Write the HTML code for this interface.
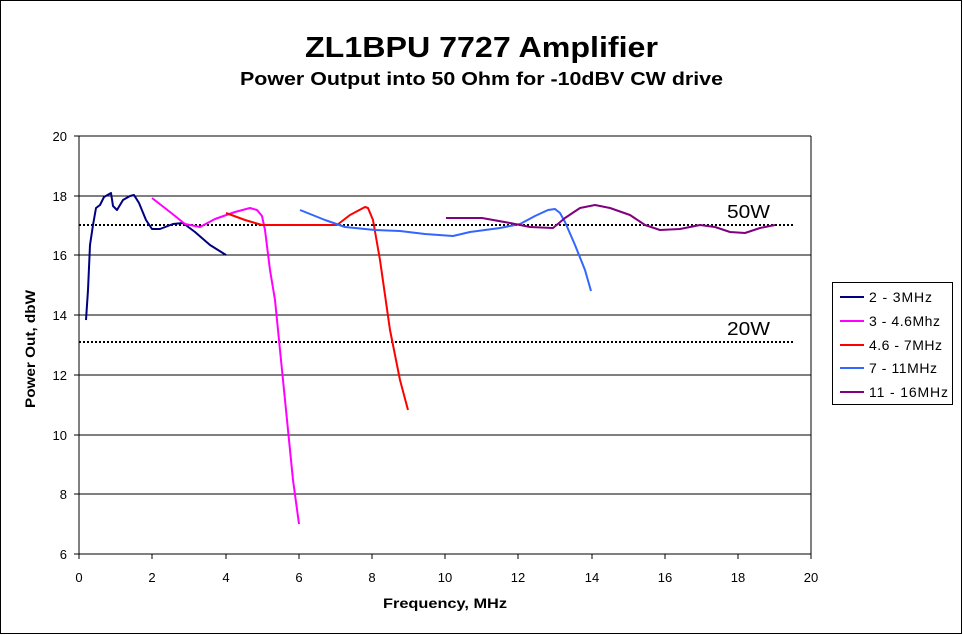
<!DOCTYPE html>
<html><head><style>body{margin:0;background:#fff}svg{display:block}</style></head><body>
<svg width="963" height="635" xmlns="http://www.w3.org/2000/svg" font-family="Liberation Sans, Arial, sans-serif">
<rect x="0.5" y="0.5" width="961" height="633" fill="#fff" stroke="#000"/>
<text x="305" y="57" font-size="29" font-weight="bold" textLength="353" lengthAdjust="spacingAndGlyphs">ZL1BPU 7727 Amplifier</text>
<text x="240" y="85" font-size="18" font-weight="bold" textLength="483" lengthAdjust="spacingAndGlyphs">Power Output into 50 Ohm for -10dBV CW drive</text>
<g stroke="#000" stroke-width="1">
<line x1="79" y1="136" x2="811" y2="136"/><line x1="79" y1="196" x2="811" y2="196"/><line x1="79" y1="255" x2="811" y2="255"/><line x1="79" y1="315" x2="811" y2="315"/><line x1="79" y1="375" x2="811" y2="375"/><line x1="79" y1="435" x2="811" y2="435"/><line x1="79" y1="494" x2="811" y2="494"/><line x1="79" y1="554" x2="811" y2="554"/>
<line x1="79" y1="136" x2="79" y2="554"/><line x1="811" y1="136" x2="811" y2="554"/>
<line x1="74" y1="136" x2="79" y2="136"/><line x1="74" y1="196" x2="79" y2="196"/><line x1="74" y1="255" x2="79" y2="255"/><line x1="74" y1="315" x2="79" y2="315"/><line x1="74" y1="375" x2="79" y2="375"/><line x1="74" y1="435" x2="79" y2="435"/><line x1="74" y1="494" x2="79" y2="494"/><line x1="74" y1="554" x2="79" y2="554"/>
<line x1="79" y1="554" x2="79" y2="559"/><line x1="152" y1="554" x2="152" y2="559"/><line x1="226" y1="554" x2="226" y2="559"/><line x1="299" y1="554" x2="299" y2="559"/><line x1="372" y1="554" x2="372" y2="559"/><line x1="445" y1="554" x2="445" y2="559"/><line x1="518" y1="554" x2="518" y2="559"/><line x1="592" y1="554" x2="592" y2="559"/><line x1="665" y1="554" x2="665" y2="559"/><line x1="738" y1="554" x2="738" y2="559"/><line x1="811" y1="554" x2="811" y2="559"/>
</g>
<g font-size="13" text-anchor="end">
<text x="67" y="141">20</text><text x="67" y="201">18</text><text x="67" y="260">16</text><text x="67" y="320">14</text><text x="67" y="380">12</text><text x="67" y="440">10</text><text x="67" y="499">8</text><text x="67" y="559">6</text>
</g>
<g font-size="13" text-anchor="middle">
<text x="79" y="582">0</text><text x="152" y="582">2</text><text x="226" y="582">4</text><text x="299" y="582">6</text><text x="372" y="582">8</text><text x="445" y="582">10</text><text x="518" y="582">12</text><text x="592" y="582">14</text><text x="665" y="582">16</text><text x="738" y="582">18</text><text x="811" y="582">20</text>
</g>
<text x="383" y="608" font-size="14" font-weight="bold" textLength="124" lengthAdjust="spacingAndGlyphs">Frequency, MHz</text>
<text transform="translate(35,408) rotate(-90)" font-size="14" font-weight="bold" textLength="118" lengthAdjust="spacingAndGlyphs">Power Out, dbW</text>
<g stroke="#000" stroke-width="2" stroke-dasharray="2,2">
<line x1="79" y1="225" x2="793" y2="225"/><line x1="79" y1="342" x2="793" y2="342"/>
</g>
<text x="727" y="218" font-size="18" textLength="43" lengthAdjust="spacingAndGlyphs">50W</text>
<text x="727" y="335" font-size="18" textLength="43" lengthAdjust="spacingAndGlyphs">20W</text>
<g fill="none" stroke-width="2" stroke-linejoin="round">
<polyline stroke="#000080" points="86,320 88,290 90,245 93,225 96,208 100,205 104,197 111,193 113,206 117,210 123,200 130,196 134,195 139,203 146,220 152,229 160,229 173,224 183,223 195,232 210,245 226,255"/>
<polyline stroke="#ff00ff" points="152,198 170,212 185,224 200,227 215,219 235,212 250,208 257,210 262,216 265,230 270,270 275,300 285,400 293,480 299,524"/>
<polyline stroke="#ff0000" points="226,213 245,220 262,225 337,225 350,215 365,207 368,208 373,220 380,260 390,330 400,380 408,410"/>
<polyline stroke="#3366ff" points="300,210 325,220 345,227 375,230 400,231 425,234 453,236 470,232 500,228 520,224 535,216 548,210 555,209 560,213 565,222 575,245 585,270 591,291"/>
<polyline stroke="#800080" points="446,218 482,218 510,223 530,227 553,228 565,218 580,208 595,205 610,208 630,215 645,225 660,230 680,229 700,225 715,227 730,232 745,233 760,228 775,225"/>
</g>
<rect x="832.5" y="282.5" width="120" height="122" fill="#fff" stroke="#000"/>
<g stroke-width="2">
<line x1="840" y1="297" x2="864" y2="297" stroke="#000080"/>
<line x1="840" y1="321" x2="864" y2="321" stroke="#ff00ff"/>
<line x1="840" y1="345" x2="864" y2="345" stroke="#ff0000"/>
<line x1="840" y1="368" x2="864" y2="368" stroke="#3366ff"/>
<line x1="840" y1="392" x2="864" y2="392" stroke="#800080"/>
</g>
<g font-size="14" lengthAdjust="spacingAndGlyphs">
<text x="869" y="302" textLength="63">2 - 3MHz</text><text x="869" y="326" textLength="71">3 - 4.6Mhz</text><text x="869" y="350" textLength="73">4.6 - 7MHz</text><text x="869" y="373" textLength="68">7 - 11MHz</text><text x="869" y="397" textLength="79">11 - 16MHz</text>
</g>
</svg>
</body></html>
